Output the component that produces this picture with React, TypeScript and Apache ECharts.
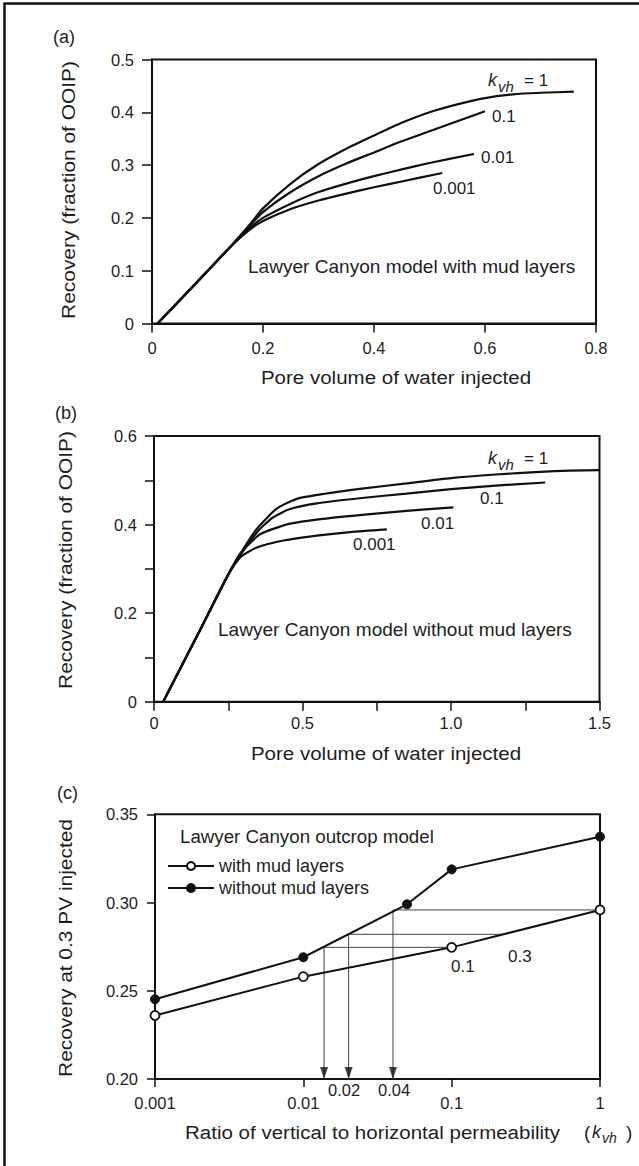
import React, { useEffect, useRef } from "react";
import * as echarts from "echarts";

// ---------- Panel (a): with mud layers ----------
const aK1 = [[0.01, 0], [0.08, 0.077], [0.14, 0.144], [0.175, 0.186], [0.2, 0.218], [0.25, 0.265], [0.3, 0.302], [0.35, 0.331], [0.4, 0.356], [0.45, 0.38], [0.5, 0.4], [0.55, 0.415], [0.6, 0.427], [0.65, 0.434], [0.7, 0.437], [0.76, 0.439]];
const aK01 = [[0.01, 0], [0.08, 0.077], [0.14, 0.144], [0.175, 0.184], [0.2, 0.211], [0.25, 0.249], [0.3, 0.279], [0.35, 0.303], [0.4, 0.324], [0.45, 0.345], [0.5, 0.364], [0.55, 0.383], [0.6, 0.402]];
const aK001 = [[0.01, 0], [0.08, 0.077], [0.14, 0.144], [0.175, 0.18], [0.2, 0.2], [0.25, 0.227], [0.3, 0.249], [0.35, 0.265], [0.4, 0.279], [0.45, 0.292], [0.5, 0.304], [0.58, 0.321]];
const aK0001 = [[0.01, 0], [0.08, 0.077], [0.14, 0.144], [0.175, 0.177], [0.2, 0.194], [0.25, 0.217], [0.3, 0.233], [0.35, 0.246], [0.4, 0.258], [0.45, 0.269], [0.523, 0.285]];

// ---------- Panel (b): without mud layers ----------
const bK1 = [[0.031, 0], [0.15, 0.155], [0.25, 0.287], [0.3, 0.344], [0.346, 0.39], [0.413, 0.436], [0.481, 0.458], [0.57, 0.469], [0.7, 0.481], [0.85, 0.493], [1.0, 0.505], [1.15, 0.513], [1.3, 0.519], [1.4, 0.522], [1.5, 0.523]];
const bK01 = [[0.031, 0], [0.15, 0.155], [0.25, 0.287], [0.3, 0.34], [0.35, 0.385], [0.4, 0.416], [0.458, 0.435], [0.548, 0.448], [0.7, 0.46], [0.85, 0.47], [1.0, 0.48], [1.15, 0.488], [1.317, 0.495]];
const bK001 = [[0.031, 0], [0.15, 0.155], [0.25, 0.287], [0.29, 0.334], [0.357, 0.378], [0.458, 0.402], [0.57, 0.413], [0.7, 0.422], [0.85, 0.431], [1.008, 0.439]];
const bK0001 = [[0.031, 0], [0.15, 0.155], [0.25, 0.287], [0.29, 0.326], [0.346, 0.348], [0.436, 0.364], [0.548, 0.375], [0.66, 0.383], [0.784, 0.389]];

// ---------- Panel (c): recovery at 0.3 PV ----------
const kvhWith = [0.001, 0.01, 0.1, 1];
const recWith = [0.236, 0.258, 0.2746, 0.2958];
const kvhWithout = [0.001, 0.01, 0.05, 0.1, 1];
const recWithout = [0.2452, 0.269, 0.299, 0.3188, 0.3373];
// horizontal guide lines: [x start, x end, y]
const guideH = [[0.0402, 1, 0.2958], [0.0202, 0.217, 0.282], [0.0138, 0.1, 0.2746]];
// vertical guide arrows: [x, y start]
const guideV = [[0.0138, 0.2746], [0.0202, 0.282], [0.0402, 0.2958]];
const logTickLabels = ["0.001", "0.01", "0.1", "1"];

const FONT = "'Liberation Sans', Arial, Helvetica, sans-serif";
const INK = "#111";
const TXT = "#1e1e1e";

function txt(text: string, x: number, y: number, size: number, o: any = {}) {
  return {
    type: "text",
    x,
    y,
    rotation: o.rotation || 0,
    scaleX: o.scaleX || 1,
    z: 50,
    style: {
      text,
      font: `${o.italic ? "italic " : ""}${size}px ${FONT}`,
      fill: TXT,
      align: o.align || "left",
      verticalAlign: "middle",
    },
  };
}

function valAxis(gridIndex: number, min: number, max: number, interval: number, fmt: (v: number) => string, tickLen: number, margin: number) {
  return {
    type: "value",
    gridIndex,
    min,
    max,
    interval,
    axisLine: { show: true, onZero: false, lineStyle: { color: INK, width: 2 } },
    axisTick: { show: true, inside: false, length: tickLen, lineStyle: { color: INK, width: 1.5 } },
    axisLabel: { formatter: fmt, margin, fontSize: 16.5, fontFamily: FONT, color: TXT },
    splitLine: { show: false },
  };
}

function curve(data: number[][], idx: number) {
  return {
    type: "line",
    xAxisIndex: idx,
    yAxisIndex: idx,
    data,
    showSymbol: false,
    symbol: "none",
    smooth: 0.2,
    lineStyle: { color: INK, width: 2.2 },
    silent: true,
  };
}

export default function App() {
  const ref = useRef<HTMLDivElement>(null);
  useEffect(() => {
    document.body.style.margin = "0";
    const chart = echarts.init(ref.current as HTMLDivElement, null, { renderer: "svg" });
    const gridBase = { show: true, borderColor: INK, borderWidth: 2, backgroundColor: "transparent", containLabel: false };

    const fmtA = (v: number) => (v === 0 ? "0" : v.toFixed(1));
    const fmtBx = (v: number) => {
      const r = Math.round(v * 100) / 100;
      if (Math.abs(r * 2 - Math.round(r * 2)) > 1e-6) return "";
      return r === 0 ? "0" : r.toFixed(1);
    };
    const fmtBy = (v: number) => {
      const r = Math.round(v * 10);
      if (r % 2 !== 0) return "";
      return r === 0 ? "0" : (r / 10).toFixed(1);
    };
    const fmtCy = (v: number) => v.toFixed(2);
    const fmtCx = (v: number) => logTickLabels[Math.round(Math.log10(v)) + 3] ?? "";

    const guideSeries: any[] = [];
    guideH.forEach((g) => {
      guideSeries.push({
        type: "line", xAxisIndex: 2, yAxisIndex: 2, symbol: "none", silent: true, z: 1,
        data: [[g[0], g[2]], [g[1], g[2]]],
        lineStyle: { color: "#444", width: 1 },
      });
    });
    guideV.forEach((g) => {
      guideSeries.push({
        type: "line", xAxisIndex: 2, yAxisIndex: 2, symbol: "none", silent: true, z: 1,
        data: [[g[0], g[1]], [g[0], 0.2]],
        lineStyle: { color: "#444", width: 1 },
      });
    });
    guideSeries.push({
      type: "scatter", xAxisIndex: 2, yAxisIndex: 2, silent: true, z: 2,
      data: guideV.map((g) => [g[0], 0.2]),
      symbol: "triangle", symbolRotate: 180, symbolSize: [8, 12], symbolOffset: [0, -6],
      itemStyle: { color: INK },
    });

    const option: any = {
      animation: false,
      backgroundColor: "#fff",
      textStyle: { fontFamily: FONT },
      grid: [
        { ...gridBase, left: 152, top: 59.5, width: 444, height: 264 },
        { ...gridBase, left: 154, top: 436, width: 445.5, height: 265.7 },
        { ...gridBase, left: 155, top: 814.3, width: 445, height: 264.7 },
      ],
      xAxis: [
        valAxis(0, 0, 0.8, 0.2, fmtA, 9, 16),
        valAxis(1, 0, 1.5, 0.25, fmtBx, 9, 13),
        {
          type: "log", gridIndex: 2, logBase: 10, min: 0.001, max: 1,
          axisLine: { show: true, onZero: false, lineStyle: { color: INK, width: 2 } },
          axisTick: { show: true, inside: false, length: 8, lineStyle: { color: INK, width: 1.5 } },
          minorTick: { show: false },
          axisLabel: { formatter: fmtCx, margin: 15, fontSize: 16.5, fontFamily: FONT, color: TXT },
          splitLine: { show: false },
        },
      ],
      yAxis: [
        valAxis(0, 0, 0.5, 0.1, fmtA, 10, 18),
        valAxis(1, 0, 0.6, 0.1, fmtBy, 9, 17),
        valAxis(2, 0.2, 0.35, 0.05, fmtCy, 8, 17),
      ],
      legend: {
        data: ["with mud layers", "without mud layers"],
        orient: "vertical",
        left: 167,
        top: 857,
        itemWidth: 46,
        itemHeight: 10,
        itemGap: 4,
        padding: 0,
        textStyle: { fontSize: 18, fontFamily: FONT, color: TXT },
      },
      series: [
        curve(aK1, 0), curve(aK01, 0), curve(aK001, 0), curve(aK0001, 0),
        curve(bK1, 1), curve(bK01, 1), curve(bK001, 1), curve(bK0001, 1),
        ...guideSeries,
        {
          name: "with mud layers", type: "line", xAxisIndex: 2, yAxisIndex: 2, z: 5,
          data: kvhWith.map((k, i) => [k, recWith[i]]),
          symbol: "circle", symbolSize: 9, showSymbol: true,
          lineStyle: { color: INK, width: 2 },
          itemStyle: { color: "#fff", borderColor: INK, borderWidth: 1.8 },
        },
        {
          name: "without mud layers", type: "line", xAxisIndex: 2, yAxisIndex: 2, z: 5,
          data: kvhWithout.map((k, i) => [k, recWithout[i]]),
          symbol: "circle", symbolSize: 9, showSymbol: true,
          lineStyle: { color: INK, width: 2 },
          itemStyle: { color: INK, borderColor: INK, borderWidth: 1 },
        },
      ],
      graphic: [
        // outer frame (left and top)
        { type: "line", shape: { x1: 4.5, y1: 3, x2: 4.5, y2: 1166 }, style: { stroke: INK, lineWidth: 2.5 } },
        { type: "line", shape: { x1: 3.5, y1: 3.5, x2: 639, y2: 3.5 }, style: { stroke: INK, lineWidth: 2.5 } },
        // panel (a)
        txt("(a)", 53, 37, 18),
        txt("Recovery (fraction of OOIP)", 68, 190, 19, { rotation: Math.PI / 2, align: "center", scaleX: 1.1 }),
        txt("Pore volume of water injected", 396, 377, 19, { align: "center", scaleX: 1.08 }),
        txt("k", 488, 80, 18, { italic: true }),
        txt("vh", 498, 86, 15, { italic: true }),
        txt("= 1", 524, 80, 17),
        txt("0.1", 492, 116, 17),
        txt("0.01", 481, 157, 17),
        txt("0.001", 433, 188, 17),
        txt("Lawyer Canyon model with mud layers", 248, 267, 18, { scaleX: 1.06 }),
        // panel (b)
        txt("(b)", 55, 413, 18),
        txt("Recovery (fraction of OOIP)", 65, 560, 19, { rotation: Math.PI / 2, align: "center", scaleX: 1.1 }),
        txt("Pore volume of water injected", 386, 753, 19, { align: "center", scaleX: 1.08 }),
        txt("k", 488, 458, 18, { italic: true }),
        txt("vh", 498, 464, 15, { italic: true }),
        txt("= 1", 524, 458, 17),
        txt("0.1", 480, 498, 17),
        txt("0.01", 421, 523, 17),
        txt("0.001", 353, 544, 17),
        txt("Lawyer Canyon model without mud layers", 218, 630, 18, { scaleX: 1.06 }),
        // panel (c)
        txt("(c)", 57, 793, 18),
        txt("Recovery at 0.3 PV injected", 65, 948, 19, { rotation: Math.PI / 2, align: "center", scaleX: 1.1 }),
        txt("Lawyer Canyon outcrop model", 180, 837, 18, { scaleX: 1.04 }),
        txt("0.1", 451, 966, 17),
        txt("0.3", 508, 956, 17),
        txt("0.02", 328, 1090, 16.5),
        txt("0.04", 378, 1090, 16.5),
        txt("Ratio of vertical to horizontal permeability", 185, 1132, 19, { scaleX: 1.08 }),
        txt("(", 584, 1132, 19),
        txt("k", 592, 1132, 18, { italic: true }),
        txt("vh", 602, 1138, 14, { italic: true }),
        txt(")", 626, 1132, 19),
      ],
    };
    chart.setOption(option);
    return () => chart.dispose();
  }, []);
  return <div ref={ref} style={{ width: 639, height: 1166, position: "absolute", left: 0, top: 0 }} />;
}
